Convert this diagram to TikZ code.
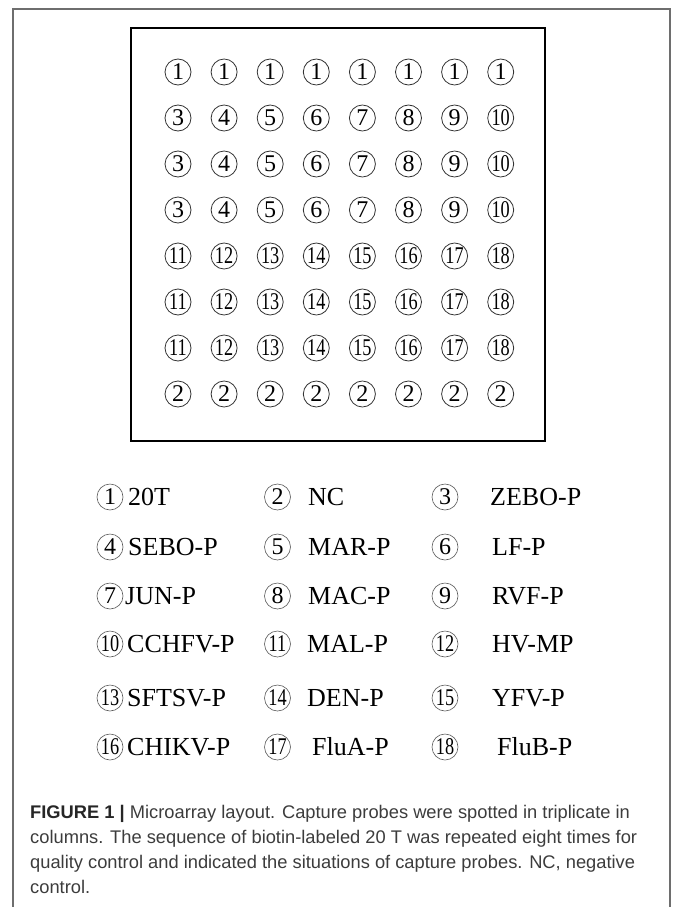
\documentclass[tikz,border=0pt]{standalone}
\usepackage{fontspec}
\setmainfont{Liberation Serif}
\newfontfamily\capfont{Liberation Sans}
\usepackage{graphicx}
\usetikzlibrary{positioning}
\definecolor{framegray}{HTML}{6E6E6E}
\definecolor{captext}{HTML}{3C3C3C}
\newcommand{\cnum}[1]{\ifnum#1>9 \scalebox{0.76}[1]{#1}\else #1\fi}

\begin{document}
\begin{tikzpicture}[x=1pt,y=-1pt,
 spot/.style={draw=black!80,circle,line width=0.8pt,inner sep=0pt,minimum size=26pt,font=\fontsize{24}{24}\selectfont},
 key/.style={spot,draw=black!65,line width=0.6pt},
 lab/.style={anchor=west,inner sep=0pt,font=\fontsize{26}{26}\selectfont},
 capline/.style={anchor=base west,inner sep=0pt,text=captext,font=\capfont\fontsize{18.3}{22}\selectfont}
]
\useasboundingbox (0,0) rectangle (672,907);
% outer frame, open at the bottom
\draw[framegray,line width=1.5pt] (13,907) -- (13,9) -- (670,9) -- (670,907);
% array slide
\draw[line width=1.4pt] (131,28) rectangle (545,441);
\foreach \c in {1,...,8} {
  \pgfmathtruncatemacro{\mid}{\c+2}
  \pgfmathtruncatemacro{\low}{\c+10}
  \node[spot] (s1-\c) at ({178+46.1*(\c-1)},72) {1};
  \foreach \r in {2,3,4}
    \node[spot] (s\r-\c) at ({178+46.1*(\c-1)},{72+46*(\r-1)}) {\cnum{\mid}};
  \foreach \r in {5,6,7}
    \node[spot] (s\r-\c) at ({178+46.1*(\c-1)},{72+46*(\r-1)}) {\cnum{\low}};
  \node[spot] (s8-\c) at ({178+46.1*(\c-1)},394) {2};
}
% legend
\foreach \n/\name/\dx [count=\i from 0] in {1/20T/0,2/NC/0,3/ZEBO-P/0,4/SEBO-P/0,5/MAR-P/0,6/LF-P/2,
  7/JUN-P/-3,8/MAC-P/0,9/RVF-P/2,10/CCHFV-P/-1,11/MAL-P/-1,12/HV-MP/2,
  13/SFTSV-P/-1,14/DEN-P/-1,15/YFV-P/2,16/CHIKV-P/-1,17/FluA-P/4,18/FluB-P/7} {
  \pgfmathtruncatemacro{\col}{mod(\i,3)}
  \pgfmathtruncatemacro{\row}{div(\i,3)}
  \pgfmathsetmacro{\ky}{{497,547,596,644,698,747}[\row]}
  \pgfmathsetmacro{\tx}{{128,308,490}[\col]+\dx}
  \node[key] (key\n) at ({110+167.5*\col},\ky) {\cnum{\n}};
  \node[lab] (name\n) at (\tx,\ky) {\name};
}
% caption
\node[capline] (cap1) at (30,818) {{\bfseries\color{black!85}FIGURE 1 |} Microarray layout. Capture probes were spotted in triplicate in};
\node[capline] (cap2) at (30,843) {columns. The sequence of biotin-labeled 20 T was repeated eight times for};
\node[capline] (cap3) at (30,868) {quality control and indicated the situations of capture probes. NC, negative};
\node[capline] (cap4) at (30,893) {control.};
\end{tikzpicture}
\end{document}
